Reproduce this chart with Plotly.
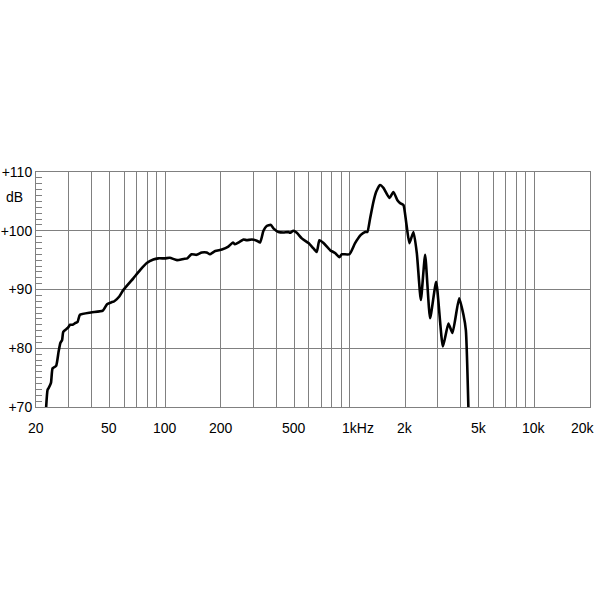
import math
import plotly.graph_objects as go

# Frequency response data (Hz, dB SPL)
freqs = [22.7, 23.1, 23.4, 24.1, 24.6, 25.7, 26.5, 27.1, 27.7, 28.1, 29.7, 30.6, 31.6, 32.7,
         33.6, 34.6, 39.7, 46.0, 48.5, 51.0, 53.1, 56.5, 59.4, 67.3, 73.2, 79.6, 86.4, 91.9,
         100, 106, 116, 126, 132, 139, 148, 158, 168, 175, 187, 203, 220, 233, 239, 253, 266,
         277, 295, 314, 327, 341, 355, 374, 386, 411, 437, 465, 475, 495, 517, 550, 598, 636,
         663, 685, 721, 783, 833, 879, 906, 996, 1069, 1148, 1211, 1246, 1289, 1343, 1389,
         1460, 1522, 1640, 1724, 1812, 1874, 1953, 2020, 2104, 2213, 2308, 2427, 2560, 2724,
         2937, 3194, 3424, 3599, 3912, 4128, 4254, 4394]
spl_db = [70.0, 72.9, 73.2, 74.1, 76.6, 77.0, 79.4, 80.9, 81.4, 82.8, 83.45, 84.0, 84.0, 84.3,
          84.5, 85.7, 86.1, 86.4, 87.5, 87.8, 88.0, 88.8, 89.9, 91.9, 93.3, 94.5, 95.1, 95.3,
          95.3, 95.4, 95.0, 95.2, 95.3, 96.0, 95.9, 96.3, 96.3, 96.0, 96.55, 96.8, 97.3, 98.0,
          97.7, 98.1, 98.5, 98.4, 98.5, 98.3, 98.0, 100.0, 100.8, 101.0, 100.4, 99.8, 99.7,
          99.8, 99.65, 100.0, 99.65, 98.7, 97.9, 97.0, 96.4, 98.4, 97.9, 96.7, 96.2, 95.5,
          96.0, 96.0, 97.9, 99.3, 99.8, 99.8, 102.1, 104.9, 106.6, 107.8, 107.3, 105.6, 106.6,
          105.2, 104.7, 104.4, 101.5, 97.9, 99.8, 96.2, 88.2, 95.9, 85.1, 91.3, 80.3, 84.2,
          82.6, 88.5, 85.7, 83.1, 69.5]

# Axis ticks
grid_freqs = [20, 30, 40, 50, 60, 70, 80, 90,
              100, 200, 300, 400, 500, 600, 700, 800, 900,
              1000, 2000, 3000, 4000, 5000, 6000, 7000, 8000, 9000,
              10000, 20000]
x_label_vals = [20, 50, 100, 200, 500, 1000, 2000, 5000, 10000, 20000]
x_label_text = ["20", "50", "100", "200", "500", "1kHz", "2k", "5k", "10k", "20k"]
x_label_shift = [0, 0, 0, 0, 0, 8, 0, 0, 0, -7]
y_tick_vals = [70, 80, 90, 100, 110]
y_tick_text = ["+70", "+80", "+90", "+100", "+110"]

GRID = "#808080"
FONT = "Liberation Sans, Arial, sans-serif"

fig = go.Figure()
fig.add_trace(go.Scatter(
    x=freqs, y=spl_db, mode="lines",
    line=dict(color="black", width=2.6, shape="spline", smoothing=0.5),
    hoverinfo="skip", showlegend=False,
))

annotations = []
for v, t, s in zip(x_label_vals, x_label_text, x_label_shift):
    annotations.append(dict(
        x=math.log10(v), xref="x", y=0, yref="paper",
        text=t, showarrow=False, xanchor="center", yanchor="middle",
        yshift=-21, xshift=s, font=dict(family=FONT, size=14, color="black"),
    ))
annotations.append(dict(
    x=-0.038, xref="paper", y=0.894, yref="paper", text="dB", showarrow=False,
    xanchor="center", yanchor="middle", font=dict(family=FONT, size=14, color="black"),
))

fig.update_layout(
    width=600, height=600,
    margin=dict(l=36, r=10, t=172, b=193, autoexpand=False),
    paper_bgcolor="white", plot_bgcolor="white",
    font=dict(family=FONT, size=14, color="black"),
    annotations=annotations,
    xaxis=dict(
        type="log", range=[math.log10(20), math.log10(20000)],
        tickvals=grid_freqs, showticklabels=False, ticks="",
        showgrid=True, gridcolor=GRID, gridwidth=1,
        showline=True, linecolor=GRID, linewidth=1, mirror=True,
        zeroline=False, automargin=False,
    ),
    yaxis=dict(
        range=[70, 110], tickvals=y_tick_vals, ticktext=y_tick_text,
        ticks="inside", ticklen=6, tickcolor=GRID, tickwidth=1,
        minor=dict(dtick=1, ticks="inside", ticklen=6, tickcolor=GRID, tickwidth=1, showgrid=False),
        showgrid=True, gridcolor=GRID, gridwidth=1,
        showline=True, linecolor=GRID, linewidth=1, mirror=True,
        zeroline=False, automargin=False,
        tickfont=dict(family=FONT, size=14, color="black"),
    ),
)

fig.write_html("out.html", config={"displayModeBar": False},
               post_script="document.body.style.margin='0';")
